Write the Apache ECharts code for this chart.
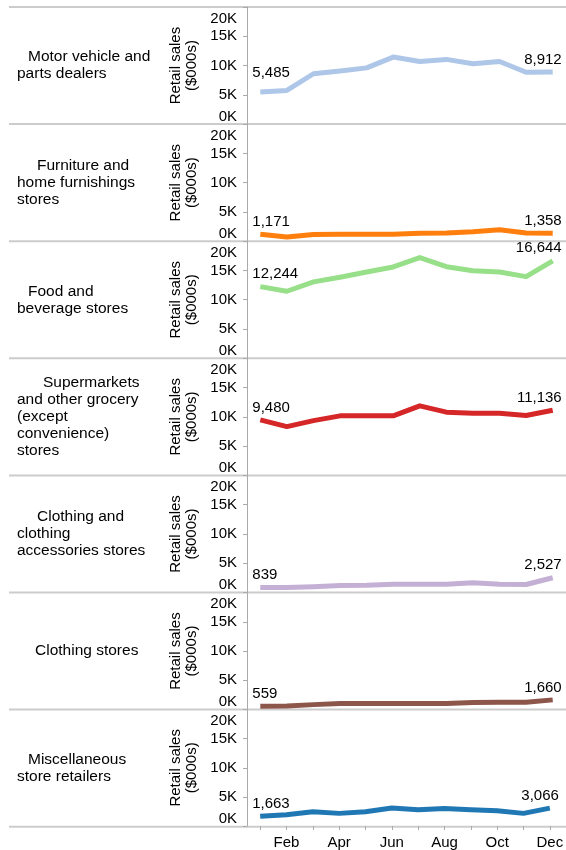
<!DOCTYPE html>
<html>
<head>
<meta charset="utf-8">
<script src="https://cdn.jsdelivr.net/npm/echarts@6/dist/echarts.min.js"></script>
<style>
  html, body { margin: 0; padding: 0; background: #fff; }
  #main { width: 566px; height: 850px; }
</style>
</head>
<body>
<div id="main"></div>
<script>
// months on the x axis
var months = ['Jan', 'Feb', 'Mar', 'Apr', 'May', 'Jun', 'Jul', 'Aug', 'Sep', 'Oct', 'Nov', 'Dec'];

// store categories, one per panel (already wrapped into lines)
var categories = [
    ['Motor vehicle and', 'parts dealers'],
    ['Furniture and', 'home furnishings', 'stores'],
    ['Food and', 'beverage stores'],
    ['Supermarkets', 'and other grocery', '(except', 'convenience)', 'stores'],
    ['Clothing and', 'clothing', 'accessories stores'],
    ['Clothing stores'],
    ['Miscellaneous', 'store retailers']
];

// monthly retail sales ($000s)
var motorVehicle = [5485, 5750, 8600, 9050, 9600, 11450, 10700, 11050, 10300, 10700, 8850, 8912];
var furniture    = [1171, 700, 1150, 1180, 1180, 1190, 1350, 1400, 1600, 1950, 1400, 1358];
var foodBeverage = [12244, 11450, 13050, 13850, 14750, 15600, 17200, 15650, 14950, 14750, 13950, 16644];
var supermarkets = [9480, 8340, 9360, 10170, 10170, 10170, 11880, 10800, 10620, 10620, 10220, 11136];
var clothingAcc  = [839, 850, 1000, 1200, 1250, 1420, 1420, 1420, 1650, 1420, 1370, 2527];
var clothing     = [559, 600, 850, 1030, 1030, 1030, 1030, 1030, 1200, 1250, 1250, 1660];
var miscRetail   = [1663, 1930, 2450, 2170, 2450, 3080, 2790, 3020, 2790, 2620, 2170, 3066];

var seriesData = [motorVehicle, furniture, foodBeverage, supermarkets, clothingAcc, clothing, miscRetail];
var colors = ['#aec7e8', '#ff7f0e', '#98df8a', '#d62728', '#c5b0d5', '#8c564b', '#1f77b4'];

// y axis
var yMax = 20000;
var yStep = 5000;

var chart = echarts.init(document.getElementById('main'));

var font = 'Liberation Sans, Arial, sans-serif';
var top0 = 7, panelH = 117.1, plotLeft = 247, plotW = 320;
var firstIndent = [11, 20, 11, 26, 20, 18, 11];

var grids = [], xAxes = [], yAxes = [], series = [], graphics = [];

seriesData.forEach(function (vals, i) {
    var top = top0 + i * panelH;
    var last = i === seriesData.length - 1;
    grids.push({ left: plotLeft, top: top, width: plotW, height: panelH });
    xAxes.push({
        type: 'category', gridIndex: i, data: months, boundaryGap: true,
        axisLine: { show: false },
        axisTick: { show: last, alignWithLabel: true, interval: 0, length: 4, lineStyle: { color: '#aaa' } },
        axisLabel: {
            show: last, color: '#000', fontSize: 15, fontFamily: font, margin: 9,
            interval: function (idx) { return idx % 2 === 1; }
        }
    });
    yAxes.push({
        type: 'value', gridIndex: i, min: 0, max: yMax, interval: yStep,
        name: 'Retail sales\n($000s)', nameLocation: 'middle', nameRotate: 90, nameGap: 46,
        nameTextStyle: { color: '#000', fontSize: 15, fontFamily: font, lineHeight: 16 },
        axisLine: { show: true, lineStyle: { color: '#aaa', width: 1 } },
        axisTick: { show: true, length: 4, lineStyle: { color: '#aaa' } },
        splitLine: { show: false },
        axisLabel: {
            color: '#000', fontSize: 15, fontFamily: font, margin: 10,
            verticalAlignMinLabel: 'bottom', verticalAlignMaxLabel: 'top',
            formatter: function (v) {
                var s = (v / 1000) + 'K';
                return v === yMax ? '{t|' + s + '}' : s;
            },
            rich: { t: { color: '#000', fontSize: 15, fontFamily: font, padding: [4, 0, 0, 0] } }
        }
    });
    var data = vals.map(function (v, k) {
        if (k === 0) {
            return { value: v, label: { show: true, align: 'left', offset: [-8, i === 0 ? -7 : 0] } };
        }
        if (k === vals.length - 1) {
            return { value: v, label: { show: true, align: 'right', offset: [9, 0] } };
        }
        return v;
    });
    series.push({
        type: 'line', xAxisIndex: i, yAxisIndex: i, data: data,
        showSymbol: true, symbol: 'circle', symbolSize: 0,
        lineStyle: { color: colors[i], width: 5, join: 'round' },
        itemStyle: { color: colors[i] },
        label: {
            show: false, position: 'top', distance: 5, color: '#000', fontSize: 15, fontFamily: font,
            formatter: function (p) { return p.value.toLocaleString('en-US'); }
        },
        emphasis: { disabled: true },
        silent: true
    });

    // separator line at the top of each panel
    graphics.push({
        type: 'line', shape: { x1: 9, y1: top, x2: 566, y2: top },
        style: { stroke: '#cccccc', lineWidth: 2 }, z: 0
    });

    // category name on the left
    var lines = categories[i];
    var mid = top + panelH / 2;
    lines.forEach(function (t, k) {
        graphics.push({
            type: 'text',
            x: 17 + (k === 0 ? firstIndent[i] : 0),
            y: mid + (k - (lines.length - 1) / 2) * 17,
            style: { text: t, fill: '#000', font: '15.5px ' + font, textVerticalAlign: 'middle', textAlign: 'left' }
        });
    });
});

// bottom separator
var bottom = top0 + seriesData.length * panelH;
graphics.push({
    type: 'line', shape: { x1: 9, y1: bottom, x2: 566, y2: bottom },
    style: { stroke: '#cccccc', lineWidth: 2 }, z: 0
});

chart.setOption({
    animation: false,
    grid: grids,
    xAxis: xAxes,
    yAxis: yAxes,
    series: series,
    graphic: graphics
});
</script>
</body>
</html>
